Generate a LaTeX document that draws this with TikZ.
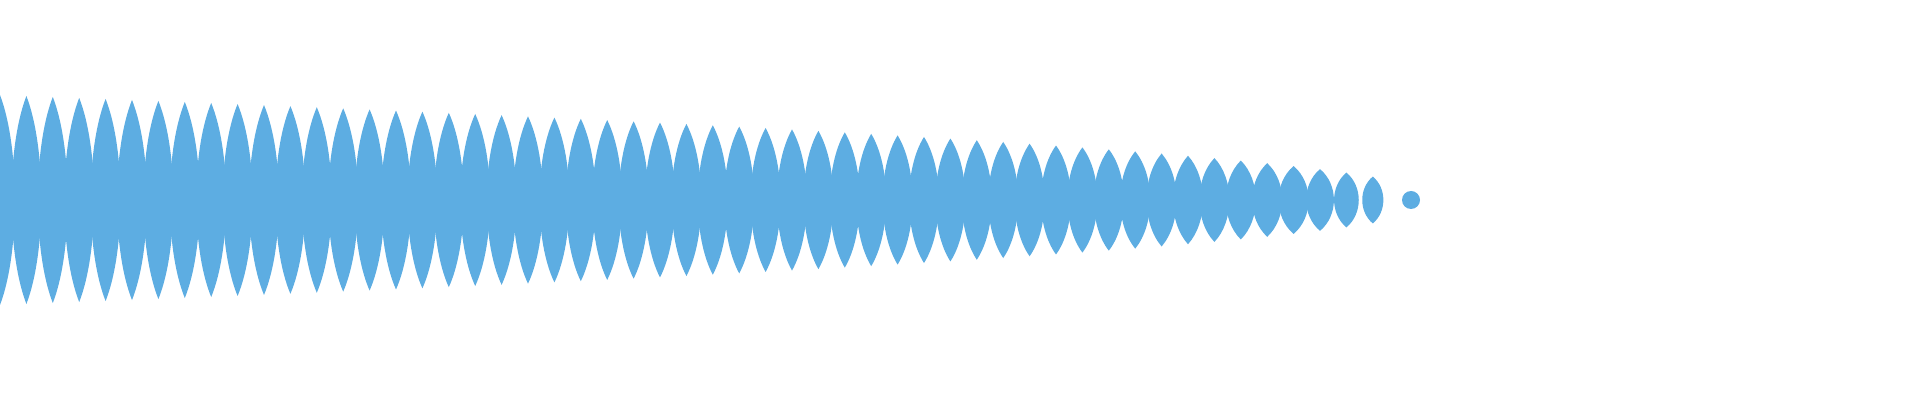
\documentclass[tikz,border=0pt]{standalone}
\definecolor{wave}{RGB}{93,173,226}
\begin{document}
\begin{tikzpicture}[x=0.5pt,y=-0.5pt,lens/.style={fill=wave,draw=none}]
\useasboundingbox (0,0) rectangle (1920,400);
\clip (0,0) rectangle (1920,400);
\foreach \i in {0,...,52}{
  \pgfmathsetmacro{\xx}{\i*26.4}
  \pgfmathsetmacro{\hh}{105*sqrt(1-\xx/1445)}
  \pgfmathsetmacro{\ww}{min(20,\hh*0.6)}
  \fill[lens] (\xx,200-\hh) .. controls (\xx+\ww,200-\hh/2) and (\xx+\ww,200+\hh/2) .. (\xx,200+\hh)
     .. controls (\xx-\ww,200+\hh/2) and (\xx-\ww,200-\hh/2) .. cycle;
}
\fill[lens] (1411,200) circle[x radius=9, y radius=9];
\end{tikzpicture}
\end{document}
